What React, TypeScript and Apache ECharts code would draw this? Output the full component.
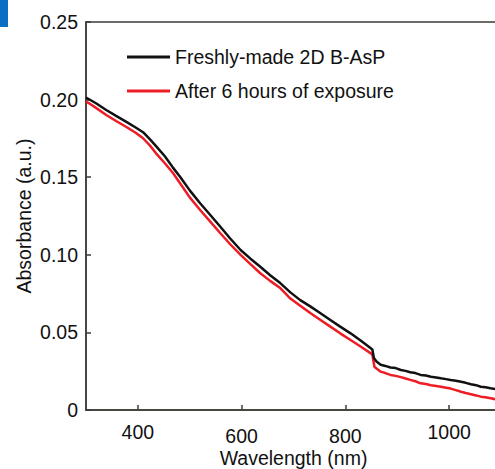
import React, { useEffect, useRef } from "react";
import * as echarts from "echarts";

const seriesNames = ["Freshly-made 2D B-AsP", "After 6 hours of exposure"];

const freshWavelength = [300, 306, 320, 339, 358, 377, 395, 410, 423, 435, 452, 468, 482, 500, 520, 540, 559, 578, 598, 617, 636, 655, 675, 694, 713, 733, 752, 771, 790, 810, 830, 849, 852, 855, 860, 868, 877, 887, 897, 907, 916, 925, 935, 945, 955, 965, 975, 984, 994, 1003, 1013, 1023, 1032, 1042, 1052, 1061, 1070, 1080, 1090, 1100];
const freshAbsorbance = [0.2012, 0.2002, 0.1975, 0.1933, 0.1895, 0.1858, 0.1822, 0.179, 0.1745, 0.17, 0.1635, 0.156, 0.15, 0.1415, 0.1332, 0.1255, 0.1181, 0.1105, 0.1031, 0.0975, 0.0923, 0.0868, 0.0816, 0.0758, 0.0708, 0.0666, 0.0623, 0.058, 0.0537, 0.0494, 0.0446, 0.0398, 0.039, 0.0335, 0.0312, 0.0292, 0.0284, 0.0274, 0.027, 0.0258, 0.0252, 0.0243, 0.0238, 0.0226, 0.0222, 0.0214, 0.0210, 0.0204, 0.0199, 0.0193, 0.0189, 0.0182, 0.0175, 0.0166, 0.0160, 0.0150, 0.0146, 0.0140, 0.0135, 0.0131];

const exposedWavelength = [300, 306, 320, 339, 358, 377, 395, 410, 423, 435, 452, 468, 482, 500, 520, 540, 559, 578, 598, 617, 636, 655, 675, 694, 713, 733, 752, 771, 790, 810, 830, 849, 852, 856, 862, 868, 877, 887, 897, 907, 916, 925, 935, 945, 955, 965, 975, 984, 994, 1003, 1013, 1023, 1032, 1042, 1052, 1061, 1070, 1080, 1090, 1100];
const exposedAbsorbance = [0.1988, 0.1976, 0.1945, 0.1901, 0.1862, 0.1825, 0.1788, 0.1751, 0.1705, 0.1654, 0.159, 0.1525, 0.1458, 0.137, 0.1289, 0.1212, 0.1139, 0.1068, 0.0999, 0.094, 0.0881, 0.0832, 0.0784, 0.0718, 0.0672, 0.0623, 0.058, 0.0537, 0.0494, 0.0451, 0.0408, 0.0365, 0.0358, 0.0279, 0.0262, 0.0247, 0.0238, 0.0226, 0.0220, 0.0212, 0.0203, 0.0194, 0.0185, 0.0172, 0.0168, 0.016, 0.0155, 0.015, 0.0144, 0.0138, 0.0128, 0.0118, 0.0110, 0.0102, 0.0094, 0.0086, 0.0082, 0.0076, 0.0069, 0.0064];

const xTickValues = [400, 600, 800, 1000];

const FONT = "Liberation Sans, Arial, sans-serif";

export default function App() {
  const ref = useRef<HTMLDivElement>(null);
  useEffect(() => {
    document.body.style.margin = "0";
    if (!ref.current) return;
    const chart = echarts.init(ref.current, null, { renderer: "svg" });
    const fresh = freshWavelength.map((w, i) => [w, freshAbsorbance[i]]);
    const exposed = exposedWavelength.map((w, i) => [w, exposedAbsorbance[i]]);
    chart.setOption({
      animation: false,
      backgroundColor: "#ffffff",
      textStyle: { fontFamily: FONT },
      grid: {
        left: 86,
        top: 22,
        right: -6,
        bottom: 59,
        containLabel: false,
        outerBoundsMode: "none",
        show: true,
        borderColor: "#3e3a36",
        borderWidth: 1.5,
        backgroundColor: "transparent",
      },
      graphic: [
        { type: "rect", left: 0, top: 0, shape: { width: 8, height: 27 }, style: { fill: "#0a6ec4" } },
      ],
      legend: {
        orient: "vertical",
        left: 122,
        top: 42,
        itemGap: 14,
        itemWidth: 43,
        itemHeight: 3,
        icon: "rect",
        textStyle: { fontSize: 19.5, color: "#111", fontFamily: FONT },
        data: seriesNames,
      },
      xAxis: {
        type: "value",
        min: 300,
        max: 1100,
        name: "Wavelength (nm)",
        nameLocation: "middle",
        nameGap: 38,
        nameMoveOverlap: false,
        nameTextStyle: { fontSize: 19.5, color: "#111", fontFamily: FONT },
        axisLine: { show: true, lineStyle: { color: "#3e3a36", width: 1.5 } },
        axisTick: { show: true, inside: true, length: 5, customValues: xTickValues, lineStyle: { color: "#3e3a36", width: 1.5 } },
        axisLabel: {
          customValues: xTickValues,
          margin: 12,
          color: "#111",
          fontSize: 19.5,
          fontFamily: FONT,
          formatter: (v: number) => (v === 600 || v === 800 ? `{b|${v}}` : `{a|${v}}`),
          rich: {
            a: { fontSize: 19.5, color: "#111", fontFamily: FONT },
            b: { fontSize: 19.5, color: "#111", fontFamily: FONT, padding: [4, 0, 0, 0] },
          },
        },
        splitLine: { show: false },
      },
      yAxis: {
        type: "value",
        min: 0,
        max: 0.25,
        interval: 0.05,
        name: "Absorbance (a.u.)",
        nameLocation: "middle",
        nameGap: 52,
        nameMoveOverlap: false,
        nameTextStyle: { fontSize: 19.5, color: "#111", fontFamily: FONT },
        axisLine: { show: true, lineStyle: { color: "#3e3a36", width: 1.5 } },
        axisTick: { show: true, inside: true, length: 5, lineStyle: { color: "#3e3a36", width: 1.5 } },
        axisLabel: {
          margin: 8,
          color: "#111",
          fontSize: 19.5,
          fontFamily: FONT,
          formatter: (v: number) => (v === 0 ? "0" : v.toFixed(2)),
        },
        splitLine: { show: false },
      },
      series: [
        {
          name: seriesNames[1],
          type: "line",
          data: exposed,
          showSymbol: false,
          symbol: "none",
          lineStyle: { color: "#ee1c24", width: 2.5 },
          itemStyle: { color: "#ee1c24" },
          z: 2,
        },
        {
          name: seriesNames[0],
          type: "line",
          data: fresh,
          showSymbol: false,
          symbol: "none",
          lineStyle: { color: "#111111", width: 2.5 },
          itemStyle: { color: "#111111" },
          z: 3,
        },
      ],
    });
    return () => chart.dispose();
  }, []);
  return <div ref={ref} style={{ width: 495, height: 469 }} />;
}
